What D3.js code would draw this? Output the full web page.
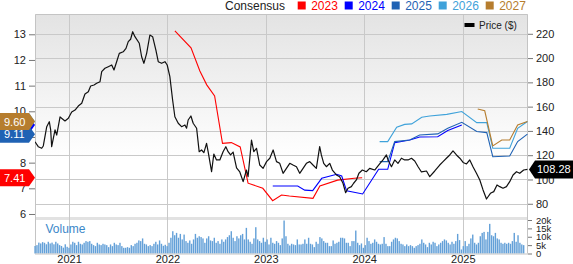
<!DOCTYPE html>
<html>
<head>
<meta charset="utf-8">
<script src="https://cdn.jsdelivr.net/npm/d3@7"></script>
<style>
  body { margin: 0; background: #fff; }
  svg { display: block; font-family: Arial, "Liberation Sans", sans-serif; }
</style>
</head>
<body>
<div id="chart"></div>
<script>
const w = 573;
const h = 264;
const plotLeft = 35;
const plotRight = 528;
const plotTop = 14;
const priceBottom = 217;
const volTop = 220;
const volBottom = 253.5;

// consensus EPS estimates, [decimal year, EPS]
const years = ['2023', '2024', '2025', '2026', '2027'];
const yearColors = ['#ff0000', '#0000ff', '#1f62b4', '#3fa2da', '#b67d2e'];
const eps2023 = [[2022.076,13.13],[2022.24,12.47],[2022.33,11.57],[2022.40,11.03],[2022.48,10.60],[2022.56,8.75],
  [2022.65,8.78],[2022.74,8.61],[2022.82,7.20],[2022.97,7.00],[2023.07,6.52],[2023.16,6.74],[2023.24,6.70],
  [2023.48,6.61],[2023.55,7.09],[2023.73,7.32],[2023.90,7.39],[2023.98,7.41]];
const eps2024 = [[2023.071,7.09],[2023.325,7.09],[2023.396,6.93],[2023.477,6.91],[2023.569,7.39],[2023.721,7.55],
  [2023.772,7.48],[2023.822,6.90],[2023.985,6.78],[2024.147,7.74],[2024.239,7.74],[2024.310,8.78],[2024.462,8.88],
  [2024.563,9.00],[2024.746,9.01],[2024.848,9.25],[2024.990,9.47]];
const eps2025 = [[2024.157,8.04],[2024.239,8.04],[2024.310,8.82],[2024.462,8.88],[2024.563,9.08],[2024.746,9.12],
  [2024.848,9.34],[2024.990,9.57],[2025.142,9.21],[2025.244,9.17],[2025.305,8.23],[2025.477,8.26],[2025.558,8.82],
  [2025.657,9.11]];
const eps2026 = [[2024.157,8.82],[2024.239,8.82],[2024.330,9.38],[2024.411,9.49],[2024.482,9.51],[2024.584,9.77],
  [2024.665,9.82],[2024.838,9.88],[2024.990,9.99],[2025.142,9.56],[2025.244,9.56],[2025.305,8.56],[2025.477,8.56],
  [2025.558,9.34],[2025.657,9.60]];
const eps2027 = [[2025.152,10.09],[2025.223,10.02],[2025.305,8.65],[2025.396,8.88],[2025.477,8.88],[2025.558,9.47],
  [2025.657,9.60]];
const epsSeries = [eps2023, eps2024, eps2025, eps2026, eps2027];
const epsTicks = [6, 7, 8, 9, 10, 11, 12, 13];

// share price, [decimal year, $]
const priceData = [
  [2020.655,131.1],[2020.688,127.0],[2020.723,125.7],[2020.739,127.6],[2020.774,143.5],[2020.800,147.6],[2020.814,140.8],
  [2020.824,127.0],[2020.858,140.8],[2020.875,136.6],[2020.909,151.5],[2020.959,148.2],[2020.993,150.4],[2021.027,155.6],
  [2021.061,157.2],[2021.094,160.5],[2021.129,162.8],[2021.162,170.4],[2021.196,172.3],[2021.220,177.0],[2021.254,177.8],
  [2021.281,179.2],[2021.315,180.5],[2021.332,188.8],[2021.365,191.6],[2021.399,192.9],[2021.434,194.3],[2021.457,190.2],
  [2021.484,197.0],[2021.511,203.9],[2021.551,205.2],[2021.579,208.0],[2021.602,213.5],[2021.626,215.5],[2021.647,221.7],
  [2021.670,217.6],[2021.714,212.2],[2021.738,201.1],[2021.761,195.7],[2021.789,203.9],[2021.822,219.0],[2021.850,217.6],
  [2021.883,206.6],[2021.907,197.0],[2021.941,195.7],[2021.975,197.0],[2021.998,194.3],[2022.025,184.7],[2022.053,165.5],
  [2022.076,151.7],[2022.110,146.3],[2022.144,143.5],[2022.178,144.9],[2022.195,142.2],[2022.211,149.0],[2022.239,152.3],
  [2022.262,146.3],[2022.297,142.2],[2022.323,122.9],[2022.347,124.3],[2022.371,122.1],[2022.398,129.8],[2022.414,122.9],
  [2022.449,106.4],[2022.472,121.0],[2022.499,116.1],[2022.533,116.1],[2022.566,122.9],[2022.594,127.0],[2022.617,122.9],
  [2022.642,120.2],[2022.668,122.6],[2022.703,109.5],[2022.736,106.2],[2022.770,98.2],[2022.804,107.8],[2022.820,102.3],
  [2022.855,132.5],[2022.878,122.9],[2022.906,125.7],[2022.939,111.9],[2022.973,109.2],[2023.008,114.7],[2023.041,117.5],
  [2023.075,124.3],[2023.109,114.7],[2023.142,113.3],[2023.176,105.1],[2023.210,109.2],[2023.244,113.3],[2023.277,111.9],
  [2023.312,110.5],[2023.345,105.1],[2023.379,109.2],[2023.413,113.3],[2023.447,114.7],[2023.480,111.9],[2023.514,109.2],
  [2023.548,127.0],[2023.565,120.2],[2023.589,113.3],[2023.616,110.5],[2023.650,113.3],[2023.677,107.8],[2023.718,103.7],
  [2023.751,102.3],[2023.785,96.9],[2023.812,89.1],[2023.836,92.8],[2023.870,94.1],[2023.893,96.9],[2023.921,99.6],
  [2023.947,105.1],[2023.982,107.8],[2024.022,106.4],[2024.056,109.2],[2024.107,107.8],[2024.157,112.8],[2024.191,116.1],
  [2024.226,120.2],[2024.242,116.1],[2024.277,110.5],[2024.310,116.1],[2024.343,113.3],[2024.378,117.5],[2024.411,116.1],
  [2024.445,116.1],[2024.480,117.5],[2024.513,115.2],[2024.547,110.5],[2024.581,106.2],[2024.632,107.0],[2024.665,102.3],
  [2024.716,107.0],[2024.766,111.9],[2024.800,114.7],[2024.834,117.5],[2024.868,120.2],[2024.901,123.5],[2024.936,120.2],
  [2024.970,117.5],[2025.003,114.0],[2025.038,112.8],[2025.071,116.1],[2025.105,110.3],[2025.139,105.1],[2025.173,99.6],
  [2025.206,91.4],[2025.241,83.9],[2025.257,85.8],[2025.281,88.6],[2025.315,90.0],[2025.348,95.5],[2025.376,94.1],
  [2025.409,92.8],[2025.444,94.1],[2025.477,98.2],[2025.511,103.7],[2025.546,106.4],[2025.579,105.1],[2025.619,107.8],
  [2025.657,108.28]
];
const priceTicks = [80, 100, 120, 140, 160, 180, 200, 220];

// weekly volume in thousands, first week ending 2020-08-28
const volumeStart = '2020-08-28';
const volume = [
  4.5,5,6.5,6,6.8,6.4,5.5,7,6,6.5,5.5,7,6,5,4.5,3.5,5.5,4,
  3.4,5.4,7.0,6.4,5.0,7.0,5.8,5.4,6.4,7.4,7.0,7.4,5.8,5.0,4.4,6.4,5.4,5.0,5.8,5.4,5.0,3.8,5.4,4.4,6.4,5.4,
  5.0,6.4,4.4,3.4,3.4,3.8,3.4,5.0,4.4,5.8,6.4,7.8,7.4,9.0,5.8,5.4,4.4,5.0,4.4,5.8,7.0,5.4,7.8,5.8,4.6,5.2,
  4.4,6.4,9.4,13.3,10.9,12.3,9.4,11.7,8.4,11.3,7.4,6.4,7.8,5.8,8.4,11.7,9.4,10.3,9.8,9.0,6.4,9.0,10.3,7.8,
  7.4,9.4,6.4,7.4,5.8,8.4,7.0,8.4,9.8,10.9,13.3,9.4,7.4,10.3,9.0,10.9,11.7,8.4,15.3,8.4,7.0,5.8,9.0,15.7,8.4,7.4,6.4,9.4,
  7.0,8.4,5.4,9.4,6.4,5.8,7.4,6.4,5.0,9.0,19.7,10.3,5.8,4.8,5.8,5.4,5.0,8.4,5.4,5.4,5.8,8.4,5.8,9.4,5.8,5.4,
  3.8,7.0,5.8,9.8,9.0,7.4,6.4,6.4,4.4,4.4,7.8,5.8,6.4,7.0,9.4,9.4,9.0,6.4,6.4,4.4,7.4,7.4,13.7,6.4,5.0,6.0,
  3.4,5.0,9.4,7.4,5.8,6.4,8.4,7.0,5.8,5.4,5.8,9.8,5.8,4.4,4.4,7.0,8.4,9.4,9.0,7.4,5.8,5.4,4.4,5.4,4.4,5.0,
  4.4,3.4,4.4,5.0,5.8,8.4,6.4,5.4,3.8,6.4,5.4,7.0,6.4,4.4,5.4,6.4,7.4,8.4,7.8,6.4,5.4,7.0,5.8,7.4,11.7,8.0,
  2.4,4.4,7.4,4.4,5.8,9.0,11.3,6.4,5.4,6.4,10.3,12.3,12.9,8.4,12.9,17.7,10.9,10.3,12.3,9.0,8.4,6.4,5.8,6.4,
  5.8,6.4,5.8,7.4,12.3,7.0,10.9,6.4,5.4,5.0
];
const volumeTicks = [0, 5, 10, 15, 20];

const toDate = t => {
  const y = Math.floor(t);
  const a = Date.UTC(y, 0, 1);
  const b = Date.UTC(y + 1, 0, 1);
  return new Date(a + (t - y) * (b - a));
};

const svg = d3.select('#chart')
  .append('svg')
  .attr('width', w)
  .attr('height', h);

const xScale = d3.scaleUtc()
  .domain([toDate(2020.655), toDate(2025.663)])
  .range([plotLeft, plotRight]);
const priceScale = d3.scaleLinear()
  .domain([69.1, 236.3])
  .range([priceBottom, plotTop]);
const epsScale = d3.scaleLinear()
  .domain([5.883, 13.79])
  .range([priceBottom, plotTop]);
const volScale = d3.scaleLinear()
  .domain([0, 20])
  .range([volBottom, volTop]);

// background
const grad = svg.append('defs').append('linearGradient')
  .attr('id', 'bg')
  .attr('x1', 0).attr('y1', 0).attr('x2', 0).attr('y2', 1);
grad.append('stop').attr('offset', 0).attr('stop-color', '#e3e3e3');
grad.append('stop').attr('offset', 0.72).attr('stop-color', '#ffffff');
svg.select('defs').append('clipPath')
  .attr('id', 'clip')
  .append('rect')
  .attr('x', plotLeft).attr('y', plotTop)
  .attr('width', plotRight - plotLeft).attr('height', priceBottom - plotTop);

svg.append('rect')
  .attr('x', plotLeft).attr('y', plotTop)
  .attr('width', plotRight - plotLeft).attr('height', priceBottom - plotTop)
  .attr('fill', 'url(#bg)');
svg.append('rect')
  .attr('x', plotLeft).attr('y', priceBottom)
  .attr('width', plotRight - plotLeft).attr('height', volTop - priceBottom)
  .attr('fill', '#e2e2e2');

// grid
svg.append('g')
  .selectAll('line')
  .data(priceTicks)
  .enter()
  .append('line')
  .attr('x1', plotLeft).attr('x2', plotRight)
  .attr('y1', d => Math.round(priceScale(d)) + 0.5)
  .attr('y2', d => Math.round(priceScale(d)) + 0.5)
  .attr('stroke', '#c9c9c9');
svg.append('g')
  .selectAll('line')
  .data(xScale.ticks(d3.utcYear.every(1)))
  .enter()
  .append('line')
  .attr('x1', d => Math.round(xScale(d)) + 0.5)
  .attr('x2', d => Math.round(xScale(d)) + 0.5)
  .attr('y1', plotTop).attr('y2', volBottom)
  .attr('stroke', '#c9c9c9');
svg.append('path')
  .attr('d', `M${plotLeft + 0.5},${volBottom}V${plotTop + 0.5}H${plotRight - 0.5}V${volBottom}`)
  .attr('fill', 'none')
  .attr('stroke', '#c4c4c4');

// volume
svg.append('text')
  .text('Volume')
  .attr('x', 45.5)
  .attr('y', 233)
  .attr('fill', '#3b87c9')
  .style('font-size', '12px');
svg.append('g')
  .selectAll('rect')
  .data(volume)
  .enter()
  .append('rect')
  .attr('x', (d, i) => xScale(d3.utcDay.offset(new Date(volumeStart), i * 7)) - 0.7)
  .attr('y', d => volScale(d))
  .attr('width', 1.4)
  .attr('height', d => volBottom - volScale(d))
  .attr('fill', '#63a0d8');
svg.append('line')
  .attr('x1', plotLeft).attr('x2', plotRight)
  .attr('y1', volBottom + 0.5).attr('y2', volBottom + 0.5)
  .attr('stroke', '#c4c4c4');

// lines
const plot = svg.append('g').attr('clip-path', 'url(#clip)');
const epsLine = d3.line()
  .x(d => xScale(toDate(d[0])))
  .y(d => epsScale(d[1]));
plot.selectAll('.eps')
  .data(epsSeries)
  .enter()
  .append('path')
  .attr('class', 'eps')
  .attr('d', epsLine)
  .attr('fill', 'none')
  .attr('stroke', (d, i) => yearColors[i])
  .attr('stroke-width', 1.1);
const priceLine = d3.line()
  .x(d => xScale(toDate(d[0])))
  .y(d => priceScale(d[1]));
plot.append('path')
  .datum(priceData)
  .attr('d', priceLine)
  .attr('fill', 'none')
  .attr('stroke', '#111')
  .attr('stroke-width', 1.2)
  .attr('stroke-linejoin', 'round');

// axes
const styleAxis = size => g => {
  g.select('.domain').remove();
  g.selectAll('line').attr('stroke', '#777');
  g.selectAll('text').attr('fill', '#222').style('font-size', size).style('font-family', 'Arial, "Liberation Sans", sans-serif');
};
svg.append('g')
  .attr('transform', `translate(${plotRight},0)`)
  .call(d3.axisRight(priceScale).tickValues(priceTicks).tickSize(5).tickPadding(3))
  .call(styleAxis('11px'));
svg.append('g')
  .attr('transform', `translate(${plotLeft},0)`)
  .call(d3.axisLeft(epsScale).tickValues(epsTicks).tickSize(6).tickPadding(3))
  .call(styleAxis('11px'));
svg.append('g')
  .attr('transform', `translate(${plotRight},0)`)
  .call(d3.axisRight(volScale).tickValues(volumeTicks).tickSize(4).tickPadding(4)
    .tickFormat(d => d ? d + 'k' : '0'))
  .call(styleAxis('9.5px'));
svg.append('g')
  .attr('transform', `translate(0,${volBottom})`)
  .call(d3.axisBottom(xScale).ticks(d3.utcYear.every(1)).tickFormat(d3.utcFormat('%Y')).tickSize(0).tickPadding(1.5))
  .call(styleAxis('11px'));

// legend
svg.append('text')
  .text('Consensus')
  .attr('x', 225).attr('y', 10)
  .attr('fill', '#222')
  .style('font-size', '12px');
const legend = svg.append('g')
  .selectAll('g')
  .data(years)
  .enter()
  .append('g')
  .attr('transform', (d, i) => `translate(${297.7 + i * 47},0)`);
legend.append('rect')
  .attr('x', 0).attr('y', 1.5)
  .attr('width', 8).attr('height', 8)
  .attr('fill', (d, i) => yearColors[i]);
legend.append('text')
  .text(d => d)
  .attr('x', 13.5).attr('y', 10)
  .attr('fill', (d, i) => yearColors[i])
  .style('font-size', '12px');

svg.append('rect')
  .attr('x', 464.5).attr('y', 23)
  .attr('width', 10).attr('height', 4)
  .attr('fill', '#000');
svg.append('text')
  .text('Price ($)')
  .attr('x', 479).attr('y', 29)
  .attr('fill', '#222')
  .style('font-size', '10px');

// last value flags on the left; 2024 and 2026 lie underneath the others
const flagOrder = [0, 1, 3, 2, 4];
const hiddenFlags = [1, 3];
const flagH = 17;
const flags = svg.append('g')
  .selectAll('g')
  .data(flagOrder)
  .enter()
  .append('g')
  .attr('transform', i => `translate(0,${epsScale(epsSeries[i][epsSeries[i].length - 1][1])})`);
flags.append('path')
  .attr('d', `M0,${-flagH / 2}H29L35,0L29,${flagH / 2}H0Z`)
  .attr('fill', i => yearColors[i]);
flags.filter(i => !hiddenFlags.includes(i))
  .append('text')
  .text(i => epsSeries[i][epsSeries[i].length - 1][1].toFixed(2))
  .attr('x', 4).attr('y', 4)
  .attr('fill', '#fff')
  .style('font-size', '11px');

// last price flag
const lastPrice = priceData[priceData.length - 1][1];
const priceFlag = svg.append('g')
  .attr('transform', `translate(0,${priceScale(lastPrice)})`);
priceFlag.append('path')
  .attr('d', `M529,0L535,-9H573V9H535Z`)
  .attr('fill', '#000');
priceFlag.append('text')
  .text(lastPrice.toFixed(2))
  .attr('x', 537).attr('y', 4)
  .attr('fill', '#fff')
  .style('font-size', '11px');
</script>
</body>
</html>
